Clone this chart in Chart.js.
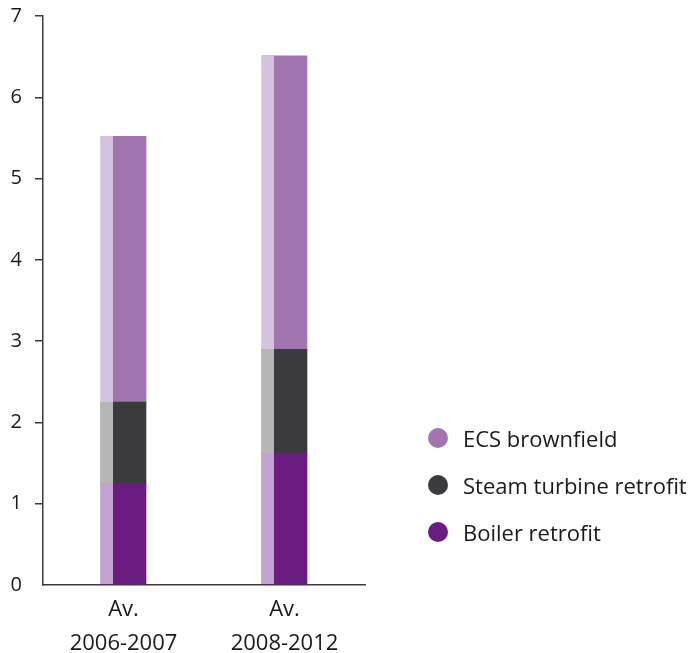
<!DOCTYPE html>
<html>
<head>
<meta charset="utf-8">
<script src="https://cdn.jsdelivr.net/npm/chart.js@4/dist/chart.umd.min.js"></script>
<style>
  html, body { margin: 0; padding: 0; background: #fff; }
  #wrap { position: relative; width: 694px; height: 653px; }
  #legend { position: absolute; left: 428px; top: 414px; font-family: "Open Sans", sans-serif; font-size: 22px; color: #1a1a1a; }
  .item { display: flex; align-items: center; height: 47px; }
  .dot { width: 20px; height: 20px; border-radius: 50%; margin-right: 15px; }
</style>
</head>
<body>
<div id="wrap">
  <canvas id="c" width="694" height="653"></canvas>
  <div id="legend"></div>
</div>
<script>
const categories = [["Av.", "2006-2007"], ["Av.", "2008-2012"]];
const seriesNames = ["Boiler retrofit", "Steam turbine retrofit", "ECS brownfield"];
const boilerRetrofit = [1.25, 1.62];
const steamTurbineRetrofit = [1.0, 1.28];
const ecsBrownfield = [3.27, 3.61];
const yTicks = [0, 1, 2, 3, 4, 5, 6, 7];

const mainColors = ["#6b1c80", "#3b3b3d", "#a176b0"];
const lightColors = ["#c3a1d1", "#b6b6b6", "#d5c2de"];
const values = [boilerRetrofit, steamTurbineRetrofit, ecsBrownfield];

const stripPlugin = {
  id: 'strip',
  afterDatasetsDraw(chart) {
    const ctx = chart.ctx;
    chart.data.datasets.forEach((ds, i) => {
      const meta = chart.getDatasetMeta(i);
      meta.data.forEach(el => {
        const left = Math.round(el.x - el.width / 2);
        const top = Math.round(el.y);
        const bottom = Math.round(el.base);
        ctx.save();
        ctx.fillStyle = lightColors[i];
        ctx.fillRect(left, top, 12, bottom - top);
        ctx.restore();
      });
    });
  }
};

const FONT = "'Open Sans', sans-serif";

new Chart(document.getElementById('c'), {
  type: 'bar',
  data: {
    labels: categories,
    datasets: seriesNames.map((n, i) => ({
      label: n,
      data: values[i],
      backgroundColor: mainColors[i],
      borderWidth: 0,
      barThickness: 45
    }))
  },
  options: {
    responsive: false,
    animation: false,
    layout: { padding: { top: 16, right: 329, left: 0, bottom: 0 } },
    plugins: { legend: { display: false }, tooltip: { enabled: false } },
    scales: {
      x: {
        stacked: true,
        grid: { display: false, drawTicks: false },
        border: { display: true, color: '#3a3a3a', width: 1.5 },
        ticks: { color: '#1a1a1a', font: { family: FONT, size: 22, lineHeight: 1.55 }, padding: 8, maxRotation: 0 },
        afterFit(s) { s.height = 68; }
      },
      y: {
        stacked: true,
        min: 0, max: 7,
        afterBuildTicks(s) { s.ticks = yTicks.map(v => ({ value: v })); },
        grid: {
          drawOnChartArea: false, drawTicks: true, tickLength: 8,
          color: ctx => (ctx.tick && ctx.tick.value === 0) ? 'rgba(0,0,0,0)' : '#3a3a3a',
          lineWidth: 1.5
        },
        border: { display: true, color: '#3a3a3a', width: 1.5 },
        ticks: { color: '#1a1a1a', font: { family: FONT, size: 20 }, padding: 13 },
        afterFit(s) { s.width = 43; s.paddingTop = 0; s.paddingBottom = 0; }
      }
    }
  },
  plugins: [stripPlugin]
});

const legend = document.getElementById('legend');
[2, 1, 0].forEach(i => {
  const d = document.createElement('div');
  d.className = 'item';
  const dot = document.createElement('span');
  dot.className = 'dot';
  dot.style.background = mainColors[i];
  const t = document.createElement('span');
  t.textContent = seriesNames[i];
  d.appendChild(dot); d.appendChild(t);
  legend.appendChild(d);
});
</script>
</body>
</html>
